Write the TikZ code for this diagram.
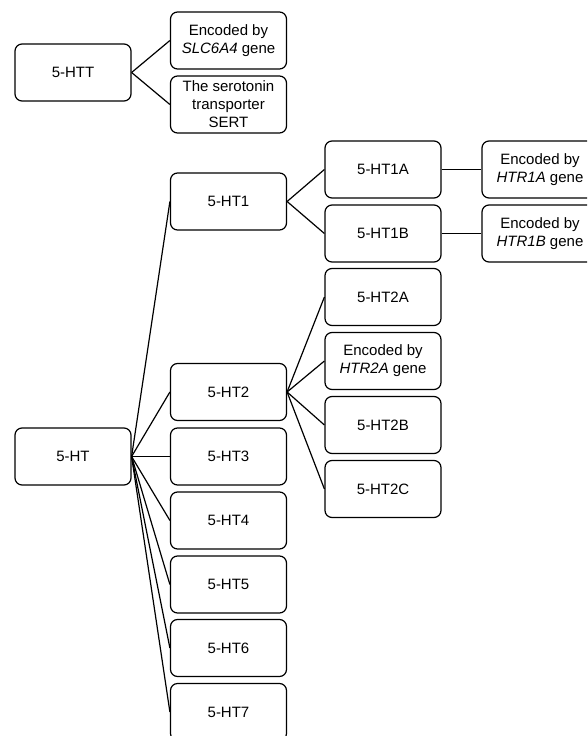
\documentclass[tikz,border=0pt]{standalone}
\usepackage{fontspec}
\setmainfont{Liberation Sans}
\begin{document}
\begin{tikzpicture}[x=1pt,y=-1pt,line width=1.2pt,
        box/.style={rectangle,draw,rounded corners=7pt,minimum width=116pt,minimum height=57pt,inner sep=2pt,align=center,font=\fontsize{15}{18}\selectfont}]
        \useasboundingbox (0,0) rectangle (587,736);
        \clip (0,0) rectangle (587,736);
        \draw (73,72.5) node[box] (HTT) {5-HTT};
        \draw (228.5,40.5) node[box] (SLC) {Encoded by\\\textit{SLC6A4} gene};
        \draw (228.5,104.5) node[box] (SERT) {The serotonin\\transporter\\SERT};
        \draw (73,456.5) node[box] (HT) {5-HT};
        \draw (228.5,201.5) node[box] (HT1) {5-HT1};
        \draw (228.5,392) node[box] (HT2) {5-HT2};
        \draw (228.5,456.5) node[box] (HT3) {5-HT3};
        \draw (228.5,520.5) node[box] (HT4) {5-HT4};
        \draw (228.5,584.5) node[box] (HT5) {5-HT5};
        \draw (228.5,648) node[box] (HT6) {5-HT6};
        \draw (228.5,712) node[box] (HT7) {5-HT7};
        \draw (383,169.5) node[box] (HT1A) {5-HT1A};
        \draw (383,233.5) node[box] (HT1B) {5-HT1B};
        \draw (383,297) node[box] (HT2A) {5-HT2A};
        \draw (383,361) node[box] (G2A) {Encoded by\\\textit{HTR2A} gene};
        \draw (383,425) node[box] (HT2B) {5-HT2B};
        \draw (383,489) node[box] (HT2C) {5-HT2C};
        \draw (540,169.5) node[box] (G1A) {Encoded by\\\textit{HTR1A} gene};
        \draw (540,233.5) node[box] (G1B) {Encoded by\\\textit{HTR1B} gene};
        \draw (HTT.east)--(SLC.west);
        \draw (HTT.east)--(SERT.west);
        \draw (HT.east)--(HT1.west);
        \draw (HT.east)--(HT2.west);
        \draw (HT.east)--(HT3.west);
        \draw (HT.east)--(HT4.west);
        \draw (HT.east)--(HT5.west);
        \draw (HT.east)--(HT6.west);
        \draw (HT.east)--(HT7.west);
        \draw (HT1.east)--(HT1A.west);
        \draw (HT1.east)--(HT1B.west);
        \draw (HT1A.east)--(G1A.west);
        \draw (HT1B.east)--(G1B.west);
        \draw (HT2.east)--(HT2A.west);
        \draw (HT2.east)--(G2A.west);
        \draw (HT2.east)--(HT2B.west);
        \draw (HT2.east)--(HT2C.west);
\end{tikzpicture}
\end{document}
